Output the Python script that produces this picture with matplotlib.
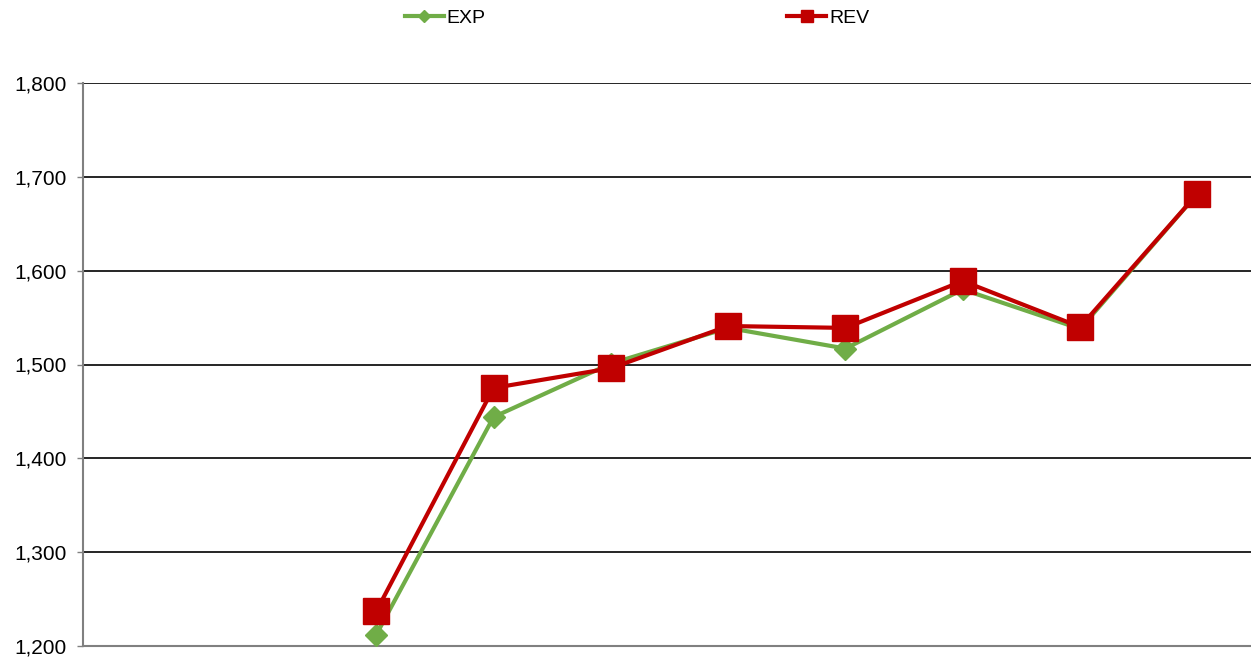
import numpy as np
import matplotlib.pyplot as plt

plt.rcParams['font.family'] = ['Liberation Sans', 'DejaVu Sans']

# 10 category slots, first two empty
categories = list(range(10))
exp_vals = [np.nan, np.nan, 1212, 1444, 1501, 1539, 1517, 1580, 1538, 1682]
rev_vals = [np.nan, np.nan, 1237, 1475, 1496, 1541, 1539, 1589, 1540, 1682]

green = '#70AD47'
red = '#C00000'

fig = plt.figure(figsize=(12.51, 6.6), dpi=100)
ax = fig.add_axes([83 / 1251, 1 - 646 / 660, 1 - 83 / 1251, (646 - 83) / 660])

ax.plot(categories, exp_vals, color=green, lw=3, marker='D', ms=11.5,
        label='EXP', zorder=3)
ax.plot(categories, rev_vals, color=red, lw=3, marker='s', ms=18.5,
        label='REV', zorder=4)

ax.set_ylim(1200, 1800)
ax.set_yticks(range(1200, 1801, 100))
ax.yaxis.set_major_formatter(plt.FuncFormatter(lambda v, p: f'{int(v):,}'))
ax.set_xlim(-0.5, 9.457)
ax.set_xticks([])

ax.grid(axis='y', color='black', lw=1.2)
ax.set_axisbelow(True)
for s in ['top', 'right']:
    ax.spines[s].set_visible(False)
for s in ['left', 'bottom']:
    ax.spines[s].set_color('#808080')
    ax.spines[s].set_linewidth(1.5)
ax.tick_params(axis='y', length=4.5, width=1, color='#808080',
               labelsize=15, pad=7)

fig.legend(loc='center', bbox_to_anchor=(637 / 1251, 1 - 18 / 660), ncol=2,
           frameon=False, fontsize=14, handlelength=2.0, handletextpad=0.15,
           columnspacing=15.5, markerscale=0.5)

fig.savefig('out.png', dpi=100)
